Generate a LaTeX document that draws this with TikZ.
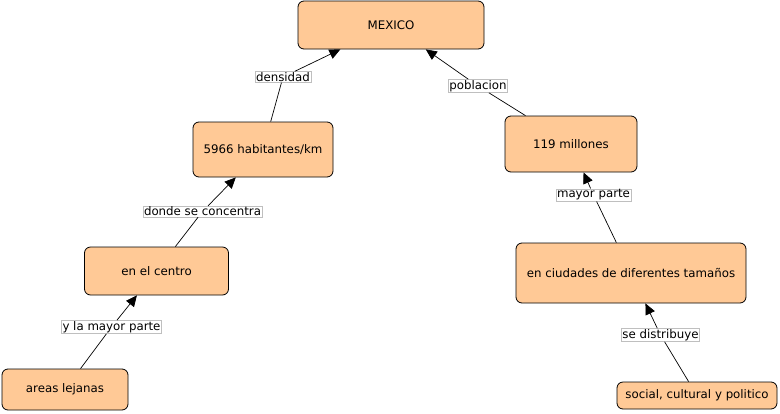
\documentclass[tikz,border=0pt]{standalone}
\usepackage{fontspec}
\setmainfont{DejaVu Sans}
\usetikzlibrary{arrows.meta}
\definecolor{peach}{RGB}{255,201,150}
\begin{document}
\begin{tikzpicture}[x=1pt,y=-1pt,
  box/.style={draw=black, fill=peach, rounded corners=6pt, line width=0.8pt, inner sep=2pt,
    font=\fontsize{11.8}{14}\selectfont},
  lab/.style={draw=black!25, fill=white, line width=0.6pt, inner xsep=1.2pt, inner ysep=0.8pt,
    font=\fontsize{11.8}{14}\selectfont},
  conn/.style={line width=0.7pt, black},
  arr/.style={conn, -{Triangle[length=11pt,width=10pt]}}]
\useasboundingbox (0,0) rectangle (780,413);
% concepts
\node[box, minimum width=186pt, minimum height=48pt] (mex) at (391,25) {MEXICO};
\node[box, minimum width=140pt, minimum height=55pt] (dens) at (263,149.5) {5966 habitantes/km};
\node[box, minimum width=132pt, minimum height=56pt] (mill) at (571,144) {119 millones};
\node[box, minimum width=144pt, minimum height=48pt] (cent) at (156.5,271) {en el centro};
\node[box, minimum width=126pt, minimum height=41pt] (area) at (65,389.5) {areas lejanas};
\node[box, minimum width=230pt, minimum height=60pt] (ciud) at (631,273) {en ciudades de diferentes tamaños};
\node[box, minimum width=160pt, minimum height=27pt] (soc) at (697,395.5) {social, cultural y politico};
% linking phrases
\node[lab] (l1) at (283,77) {densidad};
\node[lab] (l2) at (478,86) {poblacion};
\node[lab] (l3) at (202.5,211.5) {donde se concentra};
\node[lab] (l4) at (111.5,327) {y la mayor parte};
\node[lab] (l5) at (593.5,195) {mayor parte};
\node[lab] (l6) at (660.5,335) {se distribuye};
% connectors
\draw[conn] (dens) -- (l1);
\draw[arr] (l1) -- (mex);
\draw[conn] (mill) -- (l2);
\draw[arr] (l2) -- (mex);
\draw[conn] (cent) -- (l3);
\draw[arr] (l3) -- (dens);
\draw[conn] (area) -- (l4);
\draw[arr] (l4) -- (cent);
\draw[conn] (ciud) -- (l5);
\draw[arr] (l5) -- (mill);
\draw[conn] (soc) -- (l6);
\draw[arr] (l6) -- (ciud);
\end{tikzpicture}
\end{document}
